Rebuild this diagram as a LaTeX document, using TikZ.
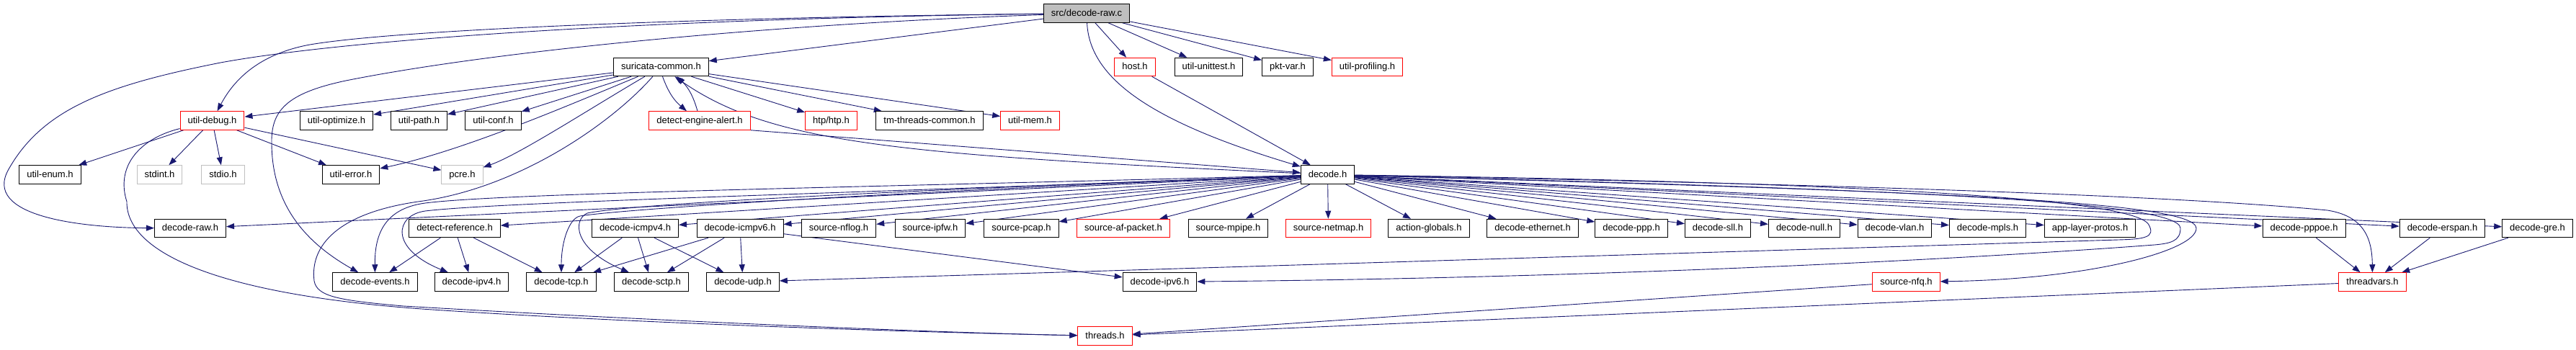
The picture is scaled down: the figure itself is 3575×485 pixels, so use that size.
\documentclass[tikz,border=0pt]{standalone}
\usepackage{fontspec}
\setmainfont{Liberation Sans}
\usetikzlibrary{arrows.meta,backgrounds}
\definecolor{edgeblue}{RGB}{25,25,112}
\definecolor{sysgray}{RGB}{191,191,191}
\definecolor{truncred}{RGB}{255,0,0}
\tikzset{
  hdr/.style={rectangle, draw=black, line width=1pt, fill=white,
              minimum height=25.5pt, inner xsep=10.5pt, inner ysep=0pt,
              text height=9.5pt, text depth=2.5pt, font=\fontsize{13}{15}\selectfont},
  hdrred/.style={hdr, draw=truncred},
  hdrsys/.style={hdr, draw=sysgray},
  hdrroot/.style={hdr, fill=sysgray},
  incl/.style={-{Triangle[length=11pt,width=8pt]}, line width=0.9pt, edgeblue},
}

\begin{document}
\begin{tikzpicture}[x=1pt, y=-1pt]
\useasboundingbox (0,0) rectangle (3575,485);

% top: the file itself
\node[hdrroot] (root) at (1508,18.5) {src/decode-raw.c};

% row 1
\node[hdr]    (sc)        at (917.5,93)  {suricata-common.h};
\node[hdrred] (host)      at (1575,93)   {host.h};
\node[hdr]    (unittest)  at (1677.5,93) {util-unittest.h};
\node[hdr]    (pktvar)    at (1787,93)   {pkt-var.h};
\node[hdrred] (profiling) at (1897.5,93) {util-profiling.h};

% row 2
\node[hdrred] (debug)     at (294.5,167.5)  {util-debug.h};
\node[hdr]    (optimize)  at (467,167.5)    {util-optimize.h};
\node[hdr]    (path)      at (581.5,167.5)  {util-path.h};
\node[hdr]    (conf)      at (684.5,167.5)  {util-conf.h};
\node[hdrred] (alert)     at (971,167.5)    {detect-engine-alert.h};
\node[hdrred] (htp)       at (1153.5,167.5) {htp/htp.h};
\node[hdr]    (tmthreads) at (1290,167.5)   {tm-threads-common.h};
\node[hdrred] (mem)       at (1429.5,167.5) {util-mem.h};

% row 3
\node[hdr]    (enum)   at (69.5,242.5)   {util-enum.h};
\node[hdrsys] (stdint) at (221.5,242.5)  {stdint.h};
\node[hdrsys] (stdio)  at (309.5,242.5)  {stdio.h};
\node[hdr]    (error)  at (487,242.5)    {util-error.h};
\node[hdrsys] (pcre)   at (641.5,242.5)  {pcre.h};
\node[hdr]    (decode) at (1842.5,242.5) {decode.h};

% row 4
\node[hdr]    (raw)       at (264,317)    {decode-raw.h};
\node[hdr]    (reference) at (631,317)    {detect-reference.h};
\node[hdr]    (icmpv4)    at (881.5,317)  {decode-icmpv4.h};
\node[hdr]    (icmpv6)    at (1027,317)   {decode-icmpv6.h};
\node[hdr]    (nflog)     at (1164,317)   {source-nflog.h};
\node[hdr]    (ipfw)      at (1291,317)   {source-ipfw.h};
\node[hdr]    (pcap)      at (1417.5,317) {source-pcap.h};
\node[hdrred] (afpacket)  at (1559,317)   {source-af-packet.h};
\node[hdr]    (mpipe)     at (1704.5,317) {source-mpipe.h};
\node[hdrred] (netmap)    at (1843.5,317) {source-netmap.h};
\node[hdr]    (action)    at (1983,317)   {action-globals.h};
\node[hdr]    (ethernet)  at (2127,317)   {decode-ethernet.h};
\node[hdr]    (ppp)       at (2264,317)   {decode-ppp.h};
\node[hdr]    (sll)       at (2384,317)   {decode-sll.h};
\node[hdr]    (null)      at (2504,317)   {decode-null.h};
\node[hdr]    (vlan)      at (2629.5,317) {decode-vlan.h};
\node[hdr]    (mpls)      at (2758.5,317) {decode-mpls.h};
\node[hdr]    (appproto)  at (2900.5,317) {app-layer-protos.h};
\node[hdr]    (pppoe)     at (3197.5,317) {decode-pppoe.h};
\node[hdr]    (erspan)    at (3389.5,317) {decode-erspan.h};
\node[hdr]    (gre)       at (3521.5,317) {decode-gre.h};

% row 5
\node[hdr]    (events)     at (520.5,391.5)  {decode-events.h};
\node[hdr]    (ipv4)       at (654.5,391.5)  {decode-ipv4.h};
\node[hdr]    (tcp)        at (779,391.5)    {decode-tcp.h};
\node[hdr]    (sctp)       at (904,391.5)    {decode-sctp.h};
\node[hdr]    (udp)        at (1031,391.5)   {decode-udp.h};
\node[hdr]    (ipv6)       at (1609.5,391.5) {decode-ipv6.h};
\node[hdrred] (nfq)        at (2645.5,391.5) {source-nfq.h};
\node[hdrred] (threadvars) at (3292.5,391.5) {threadvars.h};

% row 6
\node[hdrred] (threads) at (1533.5,466.5) {threads.h};

\begin{scope}[on background layer]
% straight includes
\foreach \t in {sc, host, unittest, pktvar, profiling}
  \draw[incl] (root) -- (\t);
\foreach \t in {debug, optimize, path, conf, htp, tmthreads, mem}
  \draw[incl] (sc) -- (\t);
\foreach \t in {enum, stdint, stdio, error, pcre}
  \draw[incl] (debug) -- (\t);
\foreach \t in {raw, reference, icmpv4, icmpv6, nflog, ipfw, pcap, afpacket, mpipe,
                netmap, action, ethernet, ppp, sll, null, vlan, mpls, appproto,
                pppoe, erspan, gre}
  \draw[incl] (decode) -- (\t);
\foreach \t in {events, ipv4, tcp}
  \draw[incl] (reference) -- (\t);
\foreach \t in {tcp, sctp, udp}
  \draw[incl] (icmpv4) -- (\t);
\foreach \t in {tcp, sctp, udp, ipv6}
  \draw[incl] (icmpv6) -- (\t);
\foreach \a/\b in {nfq/threads, threadvars/threads, pppoe/threadvars, erspan/threadvars,
                   gre/threadvars, host/decode}
  \draw[incl] (\a) -- (\b);
\draw[incl] (alert.south east) -- (decode);

% curved includes from the file
\draw[incl] (root) .. controls (1000,24) and (560,40) .. (430,62)
  .. controls (360,75) and (325,110) .. (debug);
\draw[incl] (root) .. controls (900,26) and (480,55) .. (306,87)
  .. controls (150,118) and (60,150) .. (12,235)
  .. controls (-25,300) and (110,316) .. (raw);
\draw[incl] (root) .. controls (1100,32) and (700,68) .. (480,112)
  .. controls (395,130) and (376,155) .. (377,200)
  .. controls (378,290) and (430,340) .. (events);
\draw[incl] (root) .. controls (1512,110) and (1600,170) .. (decode);

% suricata-common.h and util-debug.h
\draw[incl] (sc) .. controls (780,150) and (640,210) .. (error);
\draw[incl] (sc) .. controls (820,150) and (720,215) .. (pcre);
\draw[incl] (sc) .. controls (850,170) and (720,262) .. (580,280)
  .. controls (470,296) and (430,340) .. (436,390)
  .. controls (440,412) and (470,417) .. (560,425)
  .. controls (900,445) and (1300,462) .. (threads);
\draw[incl] ([xshift=2pt]sc.south) to[bend right=15] ([xshift=-18pt]alert.north);
\draw[incl] ([xshift=-3pt]alert.north) to[bend right=15] ([xshift=22pt]sc.south);
\draw[incl] (debug) .. controls (195,192) and (160,230) .. (176,280)
  .. controls (175,350) and (300,410) .. (600,430)
  .. controls (900,450) and (1300,462) .. (threads);

% decode.h, to the left
\draw[incl] (decode) .. controls (1250,215) and (1070,200) .. (sc);
\draw[incl] (decode) .. controls (1200,260) and (700,268) .. (590,282)
  .. controls (530,290) and (520,330) .. (events);
\draw[incl] (decode) .. controls (1200,268) and (700,280) .. (590,293)
  .. controls (548,299) and (540,345) .. (ipv4);
\draw[incl] (decode) .. controls (1200,268) and (860,291) .. (805,300)
  .. controls (790,303) and (779,335) .. (tcp);
\draw[incl] (decode) .. controls (1200,266) and (870,284) .. (815,296)
  .. controls (795,305) and (795,345) .. (sctp);

% decode.h, loops round the right end
\draw[incl] (decode) .. controls (2500,252) and (2960,272) .. (2982,312)
  .. controls (2992,330) and (2975,332) .. (2940,333) -- (udp);
\draw[incl] (decode) .. controls (2600,262) and (3026,278) .. (3026,317)
  .. controls (3026,335) and (3012,338) .. (2990,340)
  .. controls (2700,362) and (2200,386) .. (ipv6);
\draw[incl] (decode) .. controls (2650,265) and (3048,278) .. (3048,317)
  .. controls (3048,348) and (2900,388) .. (nfq);
\draw[incl] (decode) .. controls (2500,255) and (3000,270) .. (3230,292)
  .. controls (3280,300) and (3292,330) .. (threadvars);
\end{scope}
\end{tikzpicture}
\end{document}
